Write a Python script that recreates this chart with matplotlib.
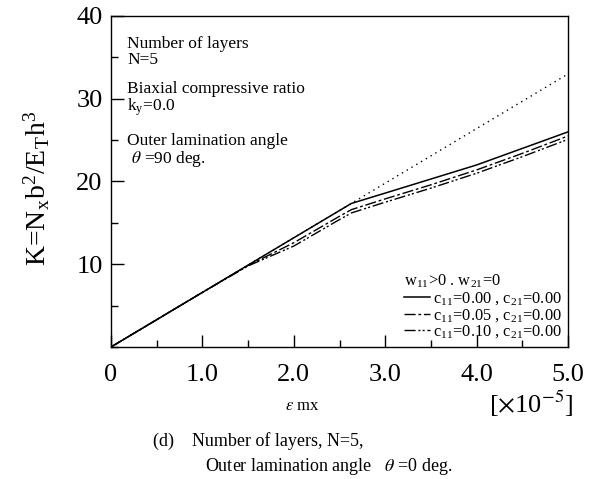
import matplotlib
matplotlib.use("Agg")
import matplotlib.pyplot as plt
from matplotlib.ticker import MultipleLocator, FixedLocator

plt.rcParams['font.family'] = ['Liberation Serif', 'DejaVu Serif']
plt.rcParams['mathtext.fontset'] = 'stix'

# Data (strain eps_mx in 1e-5, K = Nx b^2 / (E_T h^3))
eps_linear = [0.0, 5.0]
K_linear = [0.0, 33.0]

eps_c000 = [0.0, 1.0, 2.0, 2.63, 3.0, 3.5, 4.0, 4.5, 5.0]
K_c000 = [0.0, 6.6, 13.2, 17.35, 18.6, 20.3, 22.0, 24.0, 26.0]

eps_c005 = [0.0, 0.5, 1.0, 1.5, 2.0, 2.5, 2.63, 3.0, 3.5, 4.0, 4.5, 5.0]
K_c005 = [0.0, 3.3, 6.6, 9.85, 12.6, 15.8, 16.6, 17.9, 19.6, 21.4, 23.4, 25.5]

eps_c010 = [0.0, 0.5, 1.0, 1.5, 2.0, 2.5, 2.63, 3.0, 3.5, 4.0, 4.5, 5.0]
K_c010 = [0.0, 3.3, 6.6, 9.8, 12.2, 15.4, 16.2, 17.5, 19.2, 21.0, 23.0, 25.1]

xticks = [0, 1.0, 2.0, 3.0, 4.0, 5.0]
xticklabels = ['0', '1.0', '2.0', '3.0', '4.0', '5.0']
yticks = [10, 20, 30, 40]
yticklabels = ['10', '20', '30', '40']

fig = plt.figure(figsize=(5.98, 4.79), dpi=100)
ax = fig.add_axes([0.1856, 0.2756, 0.7644, 0.691])

ax.plot(eps_linear, K_linear, color='black', lw=1.0, dashes=(1, 3))
l1, = ax.plot(eps_c000, K_c000, color='black', lw=1.1)
l2, = ax.plot(eps_c005, K_c005, color='black', lw=1.0, dashes=(8, 2, 2, 2))
l3, = ax.plot(eps_c010, K_c010, color='black', lw=1.0, dashes=(8, 2, 1.5, 1.5, 1.5, 2))

ax.set_xlim(0, 5.0)
ax.set_ylim(0, 40)
ax.xaxis.set_major_locator(FixedLocator(xticks))
ax.set_xticklabels(xticklabels)
ax.xaxis.set_minor_locator(MultipleLocator(0.5))
ax.yaxis.set_major_locator(FixedLocator(yticks))
ax.set_yticklabels(yticklabels)
ax.yaxis.set_minor_locator(MultipleLocator(5))
ax.tick_params(which='both', direction='in', top=False, right=False, labelsize=19)
ax.tick_params(axis='x', pad=12)
ax.tick_params(axis='y', pad=6)
ax.tick_params(which='major', length=9, width=1)
ax.tick_params(which='minor', length=5, width=1)
for s in ax.spines.values():
    s.set_linewidth(1.0)

ax.set_ylabel(r'K=N$_\mathregular{x}$b$^\mathregular{2}$/E$_\mathregular{T}$h$^\mathregular{3}$', fontsize=20)
ax.yaxis.set_label_coords(-0.13, 0.48)

fs = 12.5
ax.text(0.035, 0.94, 'Number of layers\nN=5', transform=ax.transAxes, fontsize=fs, va='top', linespacing=1.0)
ax.text(0.035, 0.805, 'Biaxial compressive ratio\n' + r'k$_\mathregular{y}$=0.0', transform=ax.transAxes, fontsize=fs, va='top', linespacing=1.0)
ax.text(0.035, 0.645, 'Outer lamination angle\n' + r' $\theta$ =90 deg.', transform=ax.transAxes, fontsize=fs, va='top', linespacing=1.0)

leg = ax.legend([l1, l2, l3],
                [r'c$_\mathregular{11}$=0.00 , c$_\mathregular{21}$=0.00',
                 r'c$_\mathregular{11}$=0.05 , c$_\mathregular{21}$=0.00',
                 r'c$_\mathregular{11}$=0.10 , c$_\mathregular{21}$=0.00'],
                title=r'w$_\mathregular{11}$>0 . w$_\mathregular{21}$=0',
                loc='lower right', bbox_to_anchor=(1.0, 0.0), frameon=False,
                fontsize=11.8, title_fontsize=11.8, handlelength=1.6, handletextpad=0.15,
                labelspacing=0.0, borderpad=0.2, borderaxespad=0.2)
leg._legend_box.align = 'left'
leg._legend_box.sep = 0

fig.text(0.505, 0.145, r'$\epsilon$ mx', fontsize=12, ha='center')
fig.text(0.958, 0.137, r'[$\times$10$^{-5}$]', fontsize=19, ha='right')
fig.text(0.256, 0.07, '(d)    Number of layers, N=5,', fontsize=13)
fig.text(0.343, 0.017, 'Outer lamination angle   ' + r'$\theta$' + ' =0 deg.', fontsize=13)

fig.savefig('out.png', dpi=100)
